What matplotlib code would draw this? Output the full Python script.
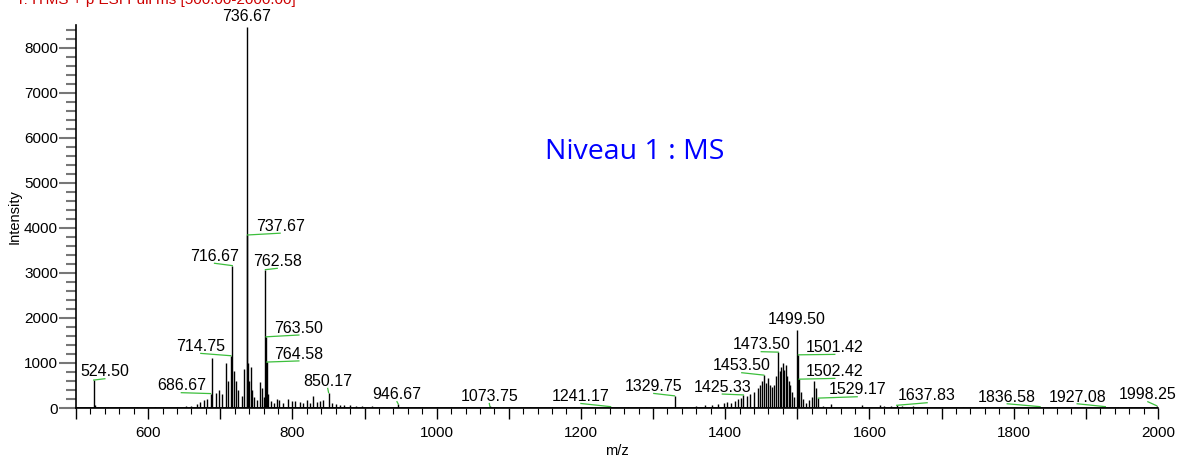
import numpy as np
import matplotlib.pyplot as plt
from matplotlib.ticker import MultipleLocator, FuncFormatter

plt.rcParams['font.family'] = ['Liberation Sans', 'DejaVu Sans']

# Centroided peaks (m/z, intensity)
PEAK_MZ = [
    524.50, 527.0, 531.0, 545.0, 560.0, 585.0, 610.0, 640.0, 652.0, 660.0,
    668.0, 672.0, 678.0, 682.0, 686.67, 688.2, 694.0, 698.0, 702.0, 707.6,
    711.0, 714.75, 716.67, 719.0, 722.0, 725.0, 730.0, 733.4, 736.67, 737.67,
    738.67, 740.0, 742.3, 744.0, 747.0, 750.5, 755.7, 757.3, 760.0, 762.58,
    763.50, 764.58, 766.0, 770.0, 775.0, 779.2, 782.0, 787.0, 794.5, 799.5,
    803.0, 810.0, 815.0, 820.0, 825.0, 829.0, 834.0, 838.0, 842.0, 850.17,
    855.0, 860.0, 866.0, 872.0, 880.0, 888.0, 897.0, 910.0, 925.0, 946.67,
    960.0, 980.0, 1000.0, 1020.0, 1045.0, 1073.75, 1100.0, 1130.0, 1160.0, 1190.0,
    1215.0, 1241.17, 1265.0, 1290.0, 1310.0, 1329.75, 1345.0, 1360.0, 1372.0, 1382.0,
    1390.0, 1398.0, 1403.0, 1408.0, 1413.0, 1418.0, 1422.0, 1425.33, 1430.0, 1435.0,
    1440.0, 1445.0, 1448.0, 1451.0, 1453.50, 1456.0, 1459.0, 1462.0, 1465.0, 1468.0,
    1471.0, 1473.50, 1476.0, 1478.0, 1480.0, 1482.0, 1484.0, 1486.0, 1488.0, 1490.0,
    1493.0, 1496.0, 1499.50, 1501.42, 1502.42, 1505.0, 1508.0, 1512.0, 1516.0, 1520.0,
    1523.5, 1526.0, 1529.17, 1535.0, 1547.0, 1560.0, 1575.0, 1590.0, 1600.0, 1614.0,
    1620.0, 1630.0, 1637.83, 1645.0, 1660.0, 1680.0, 1700.0, 1730.0, 1760.0, 1790.0,
    1815.0, 1836.58, 1860.0, 1885.0, 1905.0, 1927.08, 1945.0, 1960.0, 1980.0, 1998.25,
]
PEAK_INT = [
    620, 60, 30, 30, 20, 20, 25, 30, 40, 50,
    90, 130, 180, 200, 320, 1100, 330, 400, 300, 990,
    600, 1160, 3160, 830, 600, 400, 260, 860, 8450, 3840,
    1000, 600, 920, 400, 250, 180, 585, 450, 250, 3070,
    1580, 1020, 300, 150, 120, 200, 180, 110, 200, 150,
    150, 130, 120, 180, 120, 260, 130, 150, 180, 340,
    100, 80, 70, 60, 70, 50, 45, 40, 30, 90,
    30, 25, 25, 20, 20, 40, 20, 20, 20, 20,
    20, 30, 15, 20, 20, 270, 25, 35, 60, 70,
    80, 100, 130, 110, 160, 200, 230, 290, 260, 320,
    360, 450, 520, 600, 730, 560, 660, 520, 460, 520,
    720, 1240, 820, 900, 1000, 850, 950, 720, 600, 500,
    350, 250, 1730, 1180, 640, 350, 200, 120, 180, 250,
    600, 450, 220, 50, 80, 30, 30, 60, 30, 70,
    40, 40, 60, 50, 40, 25, 20, 20, 20, 20,
    20, 30, 20, 20, 25, 30, 25, 30, 25, 50,
]

# Annotated peaks
LABELS = ['524.50', '686.67', '714.75', '716.67', '736.67', '737.67', '762.58',
          '763.50', '764.58', '850.17', '946.67', '1073.75', '1241.17', '1329.75',
          '1425.33', '1453.50', '1473.50', '1499.50', '1501.42', '1502.42',
          '1529.17', '1637.83', '1836.58', '1927.08', '1998.25']

# Label placement (text centre in data units)
LABEL_POS = {
    '524.50': (540, 800), '686.67': (646, 490), '714.75': (673, 1362),
    '716.67': (692, 3362), '736.67': (736, 8690), '737.67': (783, 4030),
    '762.58': (779, 3250), '763.50': (809, 1770), '764.58': (809, 1195),
    '850.17': (849, 585), '946.67': (945, 290), '1073.75': (1073, 250),
    '1241.17': (1200, 250), '1329.75': (1301, 473), '1425.33': (1396, 460),
    '1453.50': (1423, 933), '1473.50': (1450, 1400), '1499.50': (1499, 1955),
    '1501.42': (1552, 1340), '1502.42': (1552, 807), '1529.17': (1583, 400),
    '1637.83': (1680, 267), '1836.58': (1791, 244), '1927.08': (1888, 244),
    '1998.25': (1986, 289),
}
NO_LEADER = {'736.67', '1499.50'}

fig = plt.figure(figsize=(11.84, 4.59), dpi=100)
ax = fig.add_axes([0.0642, 0.1111, 0.9138, 0.8344])

ax.vlines(PEAK_MZ, 0, PEAK_INT, color='black', linewidth=1.0)
ax.axhline(0, color='black', linewidth=1.2)

peaks = dict(zip(PEAK_MZ, PEAK_INT))
for lab in LABELS:
    mz = float(lab)
    h = peaks[mz]
    tx, ty = LABEL_POS[lab]
    ax.text(tx, ty, lab, ha='center', va='center', fontsize=11.5, clip_on=False)
    if lab not in NO_LEADER:
        ax.plot([tx, mz], [ty - 150, h], color='#3cbf3c', linewidth=0.9, clip_on=False)

ax.set_xlim(500, 2000)
ax.set_ylim(0, 8500)

for s in ['top', 'right']:
    ax.spines[s].set_visible(False)
ax.spines['left'].set_linewidth(1.2)
ax.spines['bottom'].set_linewidth(1.2)

ax.xaxis.set_major_locator(MultipleLocator(100))
ax.xaxis.set_minor_locator(MultipleLocator(20))
ax.xaxis.set_major_formatter(FuncFormatter(lambda v, p: f'{v:.0f}' if round(v) % 200 == 0 else ''))
ax.yaxis.set_major_locator(MultipleLocator(1000))
ax.yaxis.set_minor_locator(MultipleLocator(200))
ax.tick_params(axis='x', which='major', length=8, width=1, labelsize=11, pad=5)
ax.tick_params(axis='x', which='minor', length=4, width=0.8)
ax.tick_params(axis='y', which='major', length=12, width=1.5, color='#777777', labelsize=11, pad=1)
ax.tick_params(axis='y', which='minor', length=7, width=1.5, color='#777777')

ax.set_xlabel('m/z', fontsize=10.5, labelpad=3)
ax.set_ylabel('Intensity', fontsize=10.5, labelpad=2)

ax.text(1274, 5680, 'Niveau 1 : MS', color='#0000ff', fontsize=20.5,
        family=['Open Sans', 'DejaVu Sans'], ha='center', va='center')

fig.text(0.25, 1.0, 'T: ITMS + p ESI Full ms [500.00-2000.00]', color='#cc0000',
         fontsize=11, ha='right', va='center')

fig.savefig('out.png', dpi=100)
